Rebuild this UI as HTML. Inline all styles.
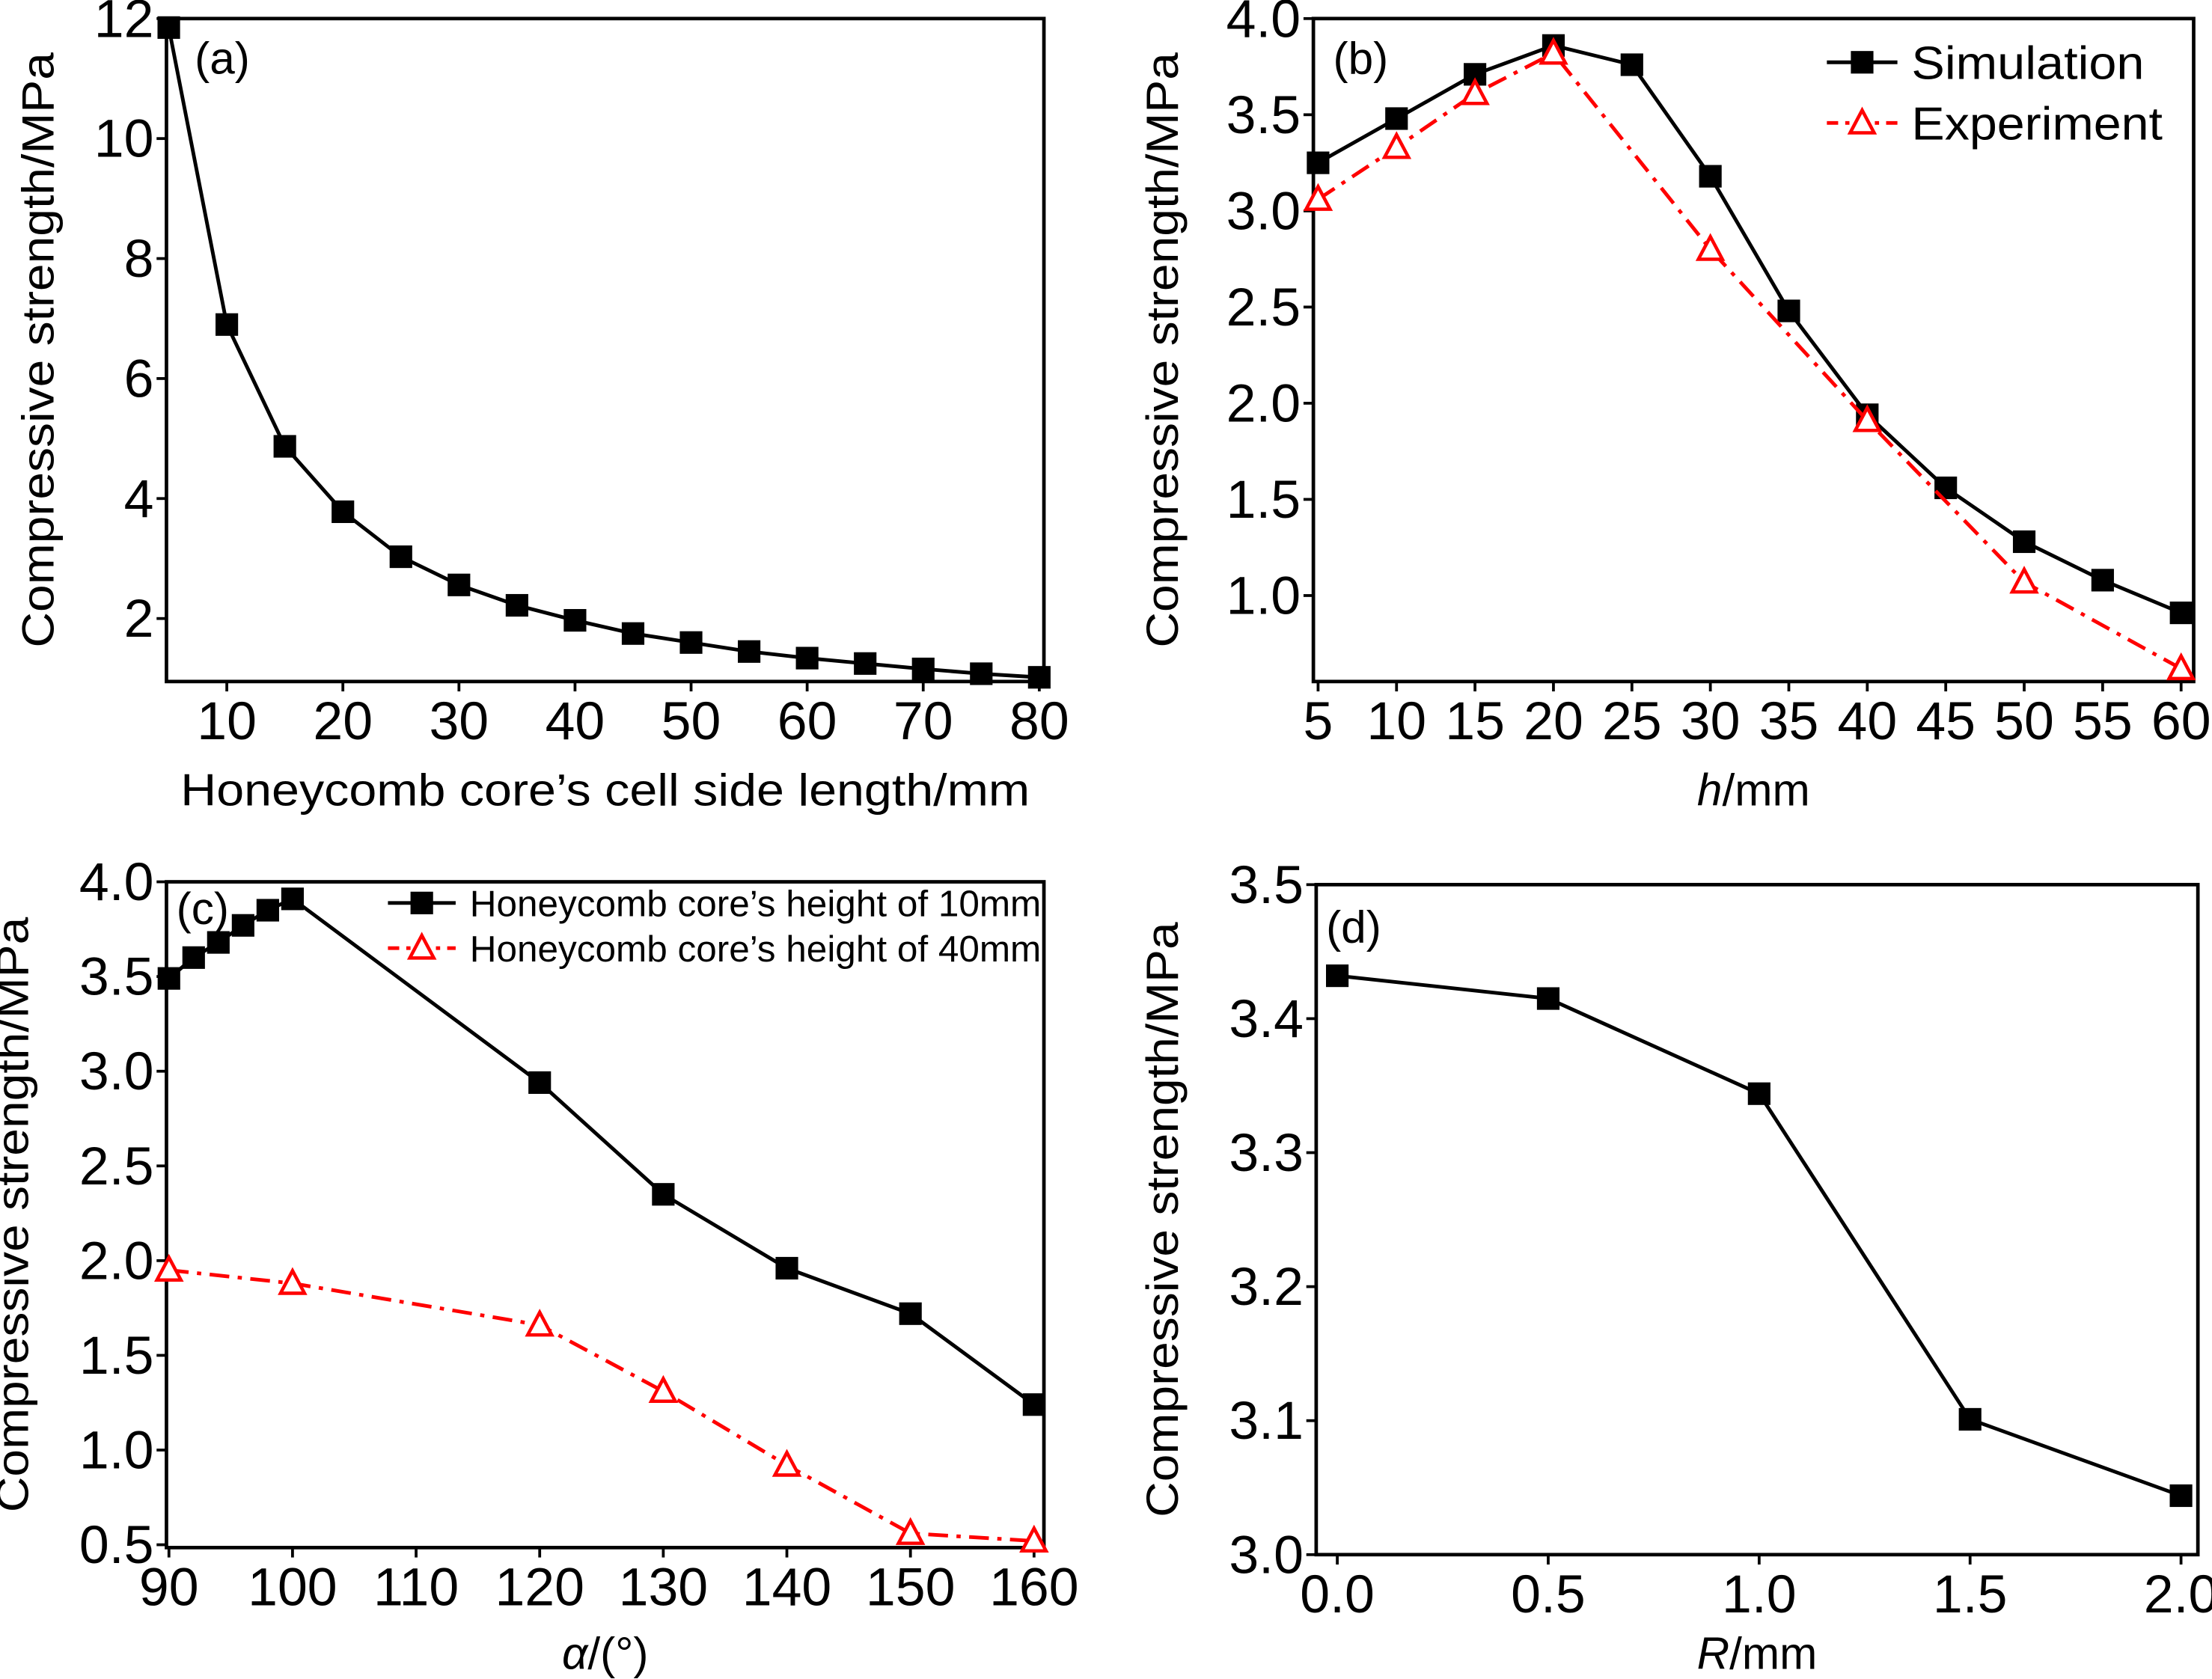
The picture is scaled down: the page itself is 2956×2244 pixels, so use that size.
<!DOCTYPE html>
<html><head><meta charset="utf-8"><style>
html,body{margin:0;padding:0;background:#fff;}
svg{display:block;}
text{font-family:"Liberation Sans",Arial,sans-serif;fill:#000;}
text.tick{font-family:"Liberation Sans Narrow","Liberation Sans",Arial,sans-serif;}
</style></head><body>
<svg id="fig" width="2956" height="2244" viewBox="0 0 1568 1190" xmlns="http://www.w3.org/2000/svg"></svg>
<script>
// Panel (a)
const aX=[5,10,15,20,25,30,35,40,45,50,55,60,65,70,75,80];
const aY=[11.85,6.9,4.87,3.78,3.03,2.56,2.22,1.97,1.75,1.6,1.45,1.34,1.25,1.16,1.08,1.02];
const aXTicks=[10,20,30,40,50,60,70,80];
const aYTicks=[2,4,6,8,10,12];
// Panel (b)
const bSimX=[5,10,15,20,25,30,35,40,45,50,55,60];
const bSimY=[3.25,3.48,3.71,3.86,3.76,3.18,2.48,1.94,1.56,1.28,1.08,0.91];
const bExpX=[5,10,15,20,30,40,50,60];
const bExpY=[3.06,3.33,3.61,3.82,2.80,1.91,1.07,0.62];
const bXTicks=[5,10,15,20,25,30,35,40,45,50,55,60];
const bYTicks=[1.0,1.5,2.0,2.5,3.0,3.5,4.0];
// Panel (c)
const c10X=[90,92,94,96,98,100,120,130,140,150,160];
const c10Y=[3.49,3.6,3.68,3.77,3.85,3.91,2.94,2.35,1.96,1.72,1.24];
const c40X=[90,100,120,130,140,150,160];
const c40Y=[1.95,1.88,1.66,1.31,0.92,0.56,0.52];
const cXTicks=[90,100,110,120,130,140,150,160];
const cYTicks=[0.5,1.0,1.5,2.0,2.5,3.0,3.5,4.0];
// Panel (d)
const dX=[0,0.5,1.0,1.5,2.0];
const dY=[3.432,3.415,3.344,3.101,3.044];
const dXTicks=[0,0.5,1.0,1.5,2.0];
const dYTicks=[3.0,3.1,3.2,3.3,3.4,3.5];

const NS='http://www.w3.org/2000/svg';
const svg=document.getElementById('fig');
function mk(tag,attrs,parent,txt){const e=document.createElementNS(NS,tag);for(const k in attrs)e.setAttribute(k,attrs[k]);if(txt!==undefined)e.textContent=txt;(parent||svg).appendChild(e);return e;}

function panel(p){
  const g=mk('g',{});
  
  
  const sx=v=>p.L+(v-p.x0)/(p.x1-p.x0)*(p.R-p.L);
  const sy=v=>p.B-(v-p.y0)/(p.y1-p.y0)*(p.B-p.T);
  const fr=mk('rect',{x:p.L,y:p.T,width:p.R-p.L,height:p.B-p.T,fill:'none',stroke:'#000','stroke-width':2.5},g);
  
  
  p.xt.forEach(v=>{
    mk('line',{x1:sx(v),x2:sx(v),y1:p.B,y2:p.B+7,stroke:'#000','stroke-width':2},g);
    const t=mk('text',{class:'tick',x:sx(v),y:p.B+41,'text-anchor':'middle','font-size':38},g,p.xfmt(v));
    
    
  });
  p.yt.forEach(v=>{
    mk('line',{x1:p.L,x2:p.L-7,y1:sy(v),y2:sy(v),stroke:'#000','stroke-width':2},g);
    const t=mk('text',{class:'tick',x:p.L-9,y:sy(v)+13,'text-anchor':'end','font-size':38},g,p.yfmt(v));
    
    
  });
  const yt=mk('text',{x:0,y:0,'text-anchor':'middle','font-size':32,transform:`translate(${p.ytx},${(p.T+p.B)/2}) rotate(-90)`,textLength:p.ytl,lengthAdjust:'spacingAndGlyphs'},g,'Compressive strength/MPa');
  
  
  const xa={x:(p.L+p.R)/2,y:p.xty,'text-anchor':'middle','font-size':32};
  if(p.xtl){xa.textLength=p.xtl;xa.lengthAdjust='spacingAndGlyphs';}
  const xt=mk('text',xa,g);
  
  
  xt.innerHTML=p.xtitle;
  const pl=mk('text',{x:p.plx,y:p.ply,'font-size':32},g,p.label);
  
  
  p.series.forEach(s=>{
    const pts=s.x.map((v,i)=>sx(v)+','+sy(s.y[i])).join(' ');
    const ln=mk('polyline',{points:pts,fill:'none',stroke:s.color,'stroke-width':2.6,'stroke-dasharray':s.dash||'none'},g);
    
    
    s.x.forEach((v,i)=>{
      const m=marker(g,s.marker,sx(v),sy(s.y[i]));
      
      
    });
  });
  return g;
}
function marker(g,type,x,y){
  if(type==='sq') return mk('rect',{x:x-8,y:y-8,width:16,height:16,fill:'#000'},g);
  return mk('polygon',{points:`${x},${y-9} ${x-8.5},${y+7} ${x+8.5},${y+7}`,fill:'#fff',stroke:'#f00','stroke-width':2.4},g);
}
function legend(g,items,x,y,dy,fs,len){
  items.forEach((it,i)=>{
    const lg=mk('g',{},g);
    
    
    const yy=y+i*dy;
    mk('line',{x1:x,x2:x+len,y1:yy,y2:yy,stroke:it.color,'stroke-width':2.6,'stroke-dasharray':it.dash||'none'},lg);
    marker(lg,it.marker,x+len/2,yy);
    mk('text',{x:x+len+10,y:yy+fs*0.36,'font-size':fs,textLength:it.w,lengthAdjust:'spacingAndGlyphs'},lg,it.text);
  });
}
const f0=v=>String(v), f1=v=>v.toFixed(1);

panel({name:'panel-a',L:118,R:740,T:13,B:483,x0:4.8,x1:80.4,y0:0.95,y1:12,xt:aXTicks,yt:aYTicks,xfmt:f0,yfmt:f0,
  ytx:38,ytl:422,xty:571,xtl:602,xtitle:'Honeycomb core’s cell side length/mm',plx:138,ply:52,label:'(a)',
  series:[{name:'cell-side-length-series',x:aX,y:aY,color:'#000',marker:'sq'}]});
const gb=panel({name:'panel-b',L:931,R:1555,T:13,B:483,x0:4.7,x1:60.8,y0:0.553,y1:4.0,xt:bXTicks,yt:bYTicks,xfmt:f0,yfmt:f1,
  ytx:835,ytl:422,xty:571,xtitle:'<tspan font-style="italic">h</tspan>/mm',plx:945,ply:52,label:'(b)',
  series:[{name:'simulation',x:bSimX,y:bSimY,color:'#000',marker:'sq'},
          {name:'experiment',x:bExpX,y:bExpY,color:'#f00',marker:'tri',dash:'14 6 3 6'}]});
legend(gb,[{text:'Simulation',color:'#000',marker:'sq',w:165},{text:'Experiment',color:'#f00',marker:'tri',dash:'8 5 3 5',w:178}],1295,44,43,33,50);
const gc=panel({name:'panel-c',L:118,R:740,T:625,B:1097,x0:89.8,x1:160.8,y0:0.485,y1:4.0,xt:cXTicks,yt:cYTicks,xfmt:f0,yfmt:f1,
  ytx:20,ytl:422,xty:1183,xtitle:'<tspan font-style="italic">α</tspan>/(°)',plx:125,ply:655,label:'(c)',
  series:[{name:'height-10mm',x:c10X,y:c10Y,color:'#000',marker:'sq'},
          {name:'height-40mm',x:c40X,y:c40Y,color:'#f00',marker:'tri',dash:'14 6 3 6'}]});
legend(gc,[{text:'Honeycomb core’s height of 10mm',color:'#000',marker:'sq',w:405},{text:'Honeycomb core’s height of 40mm',color:'#f00',marker:'tri',dash:'8 5 3 5',w:405}],275,640,32,26,48);
panel({name:'panel-d',L:933,R:1558,T:627,B:1102,x0:-0.05,x1:2.04,y0:3.0,y1:3.5,xt:dXTicks,yt:dYTicks,xfmt:f1,yfmt:f1,
  ytx:835,ytl:422,xty:1183,xtitle:'<tspan font-style="italic">R</tspan>/mm',plx:940,ply:668,label:'(d)',
  series:[{name:'fillet-radius-series',x:dX,y:dY,color:'#000',marker:'sq'}]});
</script>
</body></html>
